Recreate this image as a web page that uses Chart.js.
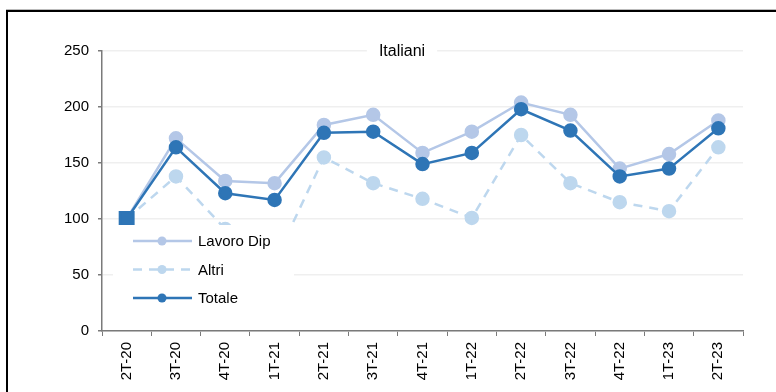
<!DOCTYPE html>
<html>
<head>
<meta charset="utf-8">
<script src="https://cdn.jsdelivr.net/npm/chart.js@4/dist/chart.umd.min.js"></script>
<style>
    html, body { margin: 0; padding: 0; background: #fff; }
    #wrap { position: relative; width: 776px; height: 392px; overflow: hidden; }
    #frame { position: absolute; left: 6px; top: 10px; width: 800px; height: 420px;
             border: 2px solid #000; box-shadow: 0 -1px 0 #bbb; pointer-events: none; }
    canvas { position: absolute; left: 0; top: 0; }
</style>
</head>
<body>
<div id="wrap">
    <canvas id="chart" width="776" height="392"></canvas>
    <div id="frame"></div>
</div>
<script>
const quarters = ['2T-20', '3T-20', '4T-20', '1T-21', '2T-21', '3T-21', '4T-21',
                  '1T-22', '2T-22', '3T-22', '4T-22', '1T-23', '2T-23'];
const lavoroDip = [100, 172, 134, 132, 184, 193, 159, 178, 204, 193, 145, 158, 188];
const altri     = [100, 138, 91, 62, 155, 132, 118, 101, 175, 132, 115, 107, 164];
const totale    = [100, 164, 123, 117, 177, 178, 149, 159, 198, 179, 138, 145, 181];
const yTicks = [0, 50, 100, 150, 200, 250];
const chartTitle = 'Italiani';

const FONT = "'Liberation Sans', Arial, sans-serif";

// title sits on the top gridline with a white patch behind it
const titlePlugin = {
    id: 'boxTitle',
    afterDraw(chart) {
        const ctx = chart.ctx;
        ctx.save();
        ctx.font = '16px ' + FONT;
        const w = ctx.measureText(chartTitle).width;
        const cx = 402, cy = chart.chartArea.top + 1;
        ctx.fillStyle = '#fff';
        ctx.fillRect(cx - w / 2 - 12, cy - 12, w + 24, 24);
        ctx.fillStyle = '#000';
        ctx.textAlign = 'center';
        ctx.textBaseline = 'middle';
        ctx.fillText(chartTitle, cx, cy);
        ctx.restore();
    }
};

// legend drawn inside plot, on a white box that hides what is under it
const boxLegend = {
    id: 'boxLegend',
    afterDatasetsDraw(chart) {
        const ctx = chart.ctx;
        const sets = chart.data.datasets;
        ctx.save();
        ctx.fillStyle = '#fff';
        ctx.fillRect(113, 225, 181, 88);
        ctx.font = '15px ' + FONT;
        ctx.textBaseline = 'middle';
        sets.forEach((ds, i) => {
            const y = 241 + i * 28.5;
            ctx.strokeStyle = ds.borderColor;
            ctx.lineWidth = ds.borderWidth;
            ctx.setLineDash(ds.borderDash || []);
            ctx.beginPath();
            ctx.moveTo(133, y);
            ctx.lineTo(192, y);
            ctx.stroke();
            ctx.setLineDash([]);
            ctx.fillStyle = ds.pointBackgroundColor;
            ctx.beginPath();
            ctx.arc(162, y, 4.5, 0, Math.PI * 2);
            ctx.fill();
            ctx.fillStyle = '#000';
            ctx.fillText(ds.label, 198, y + 1);
        });
        ctx.restore();
    }
};

const firstSquare = quarters.map((q, i) => i === 0 ? 'rect' : 'circle');
const firstRadius = quarters.map((q, i) => i === 0 ? 9.5 : 6);

new Chart(document.getElementById('chart').getContext('2d'), {
    type: 'line',
    data: {
        labels: quarters,
        datasets: [{
            label: 'Lavoro Dip',
            data: lavoroDip,
            borderColor: '#b4c7e7',
            pointBackgroundColor: '#b4c7e7',
            pointBorderColor: '#b4c7e7',
            borderWidth: 2.5,
            pointRadius: 6,
            order: 1
        }, {
            label: 'Altri',
            data: altri,
            borderColor: '#bdd7ee',
            pointBackgroundColor: '#bdd7ee',
            pointBorderColor: '#bdd7ee',
            borderWidth: 2.5,
            borderDash: [9, 7],
            pointRadius: 6,
            order: 2
        }, {
            label: 'Totale',
            data: totale,
            borderColor: '#2e75b6',
            pointBackgroundColor: '#2e75b6',
            pointBorderColor: '#2e75b6',
            borderWidth: 2.5,
            pointStyle: firstSquare,
            pointRadius: firstRadius,
            order: 0
        }]
    },
    options: {
        responsive: false,
        animation: false,
        devicePixelRatio: 1,
        layout: { padding: { top: 51, right: 33, left: 0, bottom: 0 } },
        elements: { line: { tension: 0 }, point: { borderWidth: 0 } },
        plugins: {
            legend: { display: false },
            title: { display: false },
            tooltip: { enabled: false }
        },
        scales: {
            x: {
                offset: true,
                grid: {
                    offset: true,
                    drawOnChartArea: false,
                    tickLength: 5,
                    tickColor: '#7a7a7a'
                },
                border: { color: '#7a7a7a', width: 1.5 },
                ticks: {
                    color: '#000',
                    font: { family: FONT, size: 15 },
                    minRotation: 90,
                    maxRotation: 90,
                    padding: 6
                },
                afterFit(scale) { scale.height = 61; }
            },
            y: {
                min: 0,
                max: 250,
                afterBuildTicks(scale) { scale.ticks = yTicks.map(v => ({ value: v })); },
                grid: {
                    color: '#efefef',
                    lineWidth: 1.5,
                    tickLength: 4,
                    tickColor: '#7a7a7a'
                },
                border: { color: '#7a7a7a', width: 1.5 },
                ticks: {
                    color: '#000',
                    font: { family: FONT, size: 15 },
                    padding: 9
                },
                afterFit(scale) { scale.width = 102; }
            }
        }
    },
    plugins: [boxLegend, titlePlugin]
});
</script>
</body>
</html>
